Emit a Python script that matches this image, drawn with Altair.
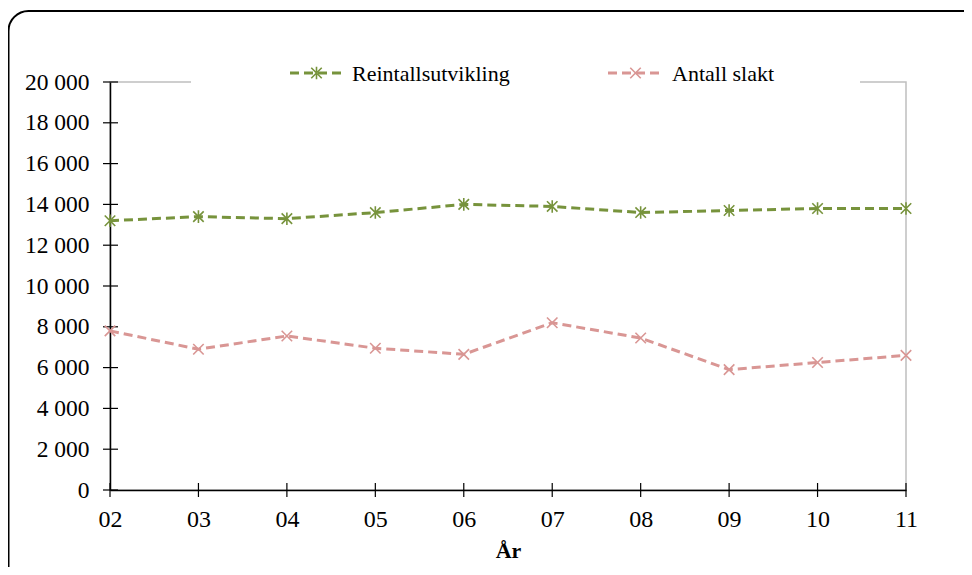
import altair as alt
import pandas as pd

years = ["02", "03", "04", "05", "06", "07", "08", "09", "10", "11"]
reintall = [13200, 13400, 13300, 13600, 14000, 13900, 13600, 13700, 13800, 13800]
slakt = [7800, 6900, 7550, 6950, 6650, 8200, 7450, 5900, 6250, 6600]
series = ["Reintallsutvikling", "Antall slakt"]
colors = ["#77933C", "#D99694"]
y_ticks = [0, 2000, 4000, 6000, 8000, 10000, 12000, 14000, 16000, 18000, 20000]

STAR = "M-1,-1L1,1M-1,1L1,-1M0,-1.2L0,1.2"
CROSS = "M-1,-1L1,1M-1,1L1,-1"
FONT = "Liberation Serif"

rows = []
for name, vals in zip(series, [reintall, slakt]):
    for yr, v in zip(years, vals):
        rows.append({"year": yr, "value": v, "series": name})
df = pd.DataFrame(rows)
ticks_df = pd.DataFrame({"v": y_ticks})
years_df = pd.DataFrame({"year": years})
one = pd.DataFrame({"a": [0]})

W, H = 796, 408

xscale = alt.Scale(type="point", padding=0, domain=years)
yscale = alt.Scale(domain=[0, 20000], nice=False)
cscale = alt.Scale(domain=series, range=colors)
sscale = alt.Scale(domain=series, range=[STAR, CROSS])

base = alt.Chart(df)

lines = base.mark_line(strokeWidth=3, strokeDash=[9, 5]).encode(
    x=alt.X("year:O", scale=xscale, sort=years,
            axis=alt.Axis(title="År", titleFont=FONT, titleFontSize=22, titleFontWeight="bold",
                          titleColor="black", titlePadding=9, labelFont=FONT, labelFontSize=24,
                          labelColor="black", labelAngle=0, labelBaseline="top", labelAlign="center",
                          ticks=True, tickSize=7, tickColor="transparent", labelPadding=10,
                          domainColor="black", domainWidth=1.5, grid=False)),
    y=alt.Y("value:Q", scale=yscale,
            axis=alt.Axis(title=None, values=y_ticks, labelFont=FONT, labelFontSize=23.5,
                          labelColor="black", ticks=True, tickSize=7, tickColor="transparent",
                          labelPadding=14,
                          domainColor="black", domainWidth=1.5, grid=False,
                          labelExpr="replace(format(datum.value, ','), ',', ' ')")),
    color=alt.Color("series:N", scale=cscale, legend=None),
    detail="series:N",
)

points = base.mark_point(filled=False, strokeWidth=1.6, size=110, opacity=1).encode(
    x=alt.X("year:O", scale=xscale, sort=years),
    y=alt.Y("value:Q", scale=yscale),
    color=alt.Color("series:N", scale=cscale, legend=None),
    shape=alt.Shape("series:N", scale=sscale, legend=None),
)

ytick_rules = alt.Chart(ticks_df).mark_rule(color="black", strokeWidth=1.2).encode(
    y=alt.Y("v:Q", scale=yscale),
    x=alt.value(-7), x2=alt.value(8),
)
xtick_rules = alt.Chart(years_df).mark_rule(color="black", strokeWidth=1.2).encode(
    x=alt.X("year:O", scale=xscale, sort=years),
    y=alt.value(H - 7), y2=alt.value(H + 7),
)

# legend box (white) covering the top border
legend_box = alt.Chart(one).mark_rect(fill="white", stroke=None).encode(
    x=alt.value(81), x2=alt.value(750), y=alt.value(-24), y2=alt.value(4)
)

LY = -9
legend_layers = []
for name, color, shp, x0, x1, tx in [
    (series[0], colors[0], STAR, 180, 233, 242),
    (series[1], colors[1], CROSS, 498, 553, 562),
]:
    legend_layers.append(
        alt.Chart(one).mark_rule(color=color, strokeWidth=3, strokeDash=[9, 5]).encode(
            x=alt.value(x0), x2=alt.value(x1), y=alt.value(LY)
        )
    )
    legend_layers.append(
        alt.Chart(one).mark_point(color=color, shape=shp, filled=False, strokeWidth=1.6, size=110, opacity=1).encode(
            x=alt.value((x0 + x1) / 2), y=alt.value(LY)
        )
    )
    legend_layers.append(
        alt.Chart(one).mark_text(text=name, font=FONT, fontSize=22, color="black",
                                 align="left", baseline="middle").encode(
            x=alt.value(tx), y=alt.value(LY + 1)
        )
    )

frame = alt.Chart(one).mark_rect(fillOpacity=0, stroke="black", strokeWidth=2, cornerRadius=20).encode(
    x=alt.value(-101.5), x2=alt.value(880), y=alt.value(-71), y2=alt.value(510)
)

chart = alt.layer(
    legend_box, ytick_rules, xtick_rules, lines, points, *legend_layers, frame
).properties(
    width=W, height=H,
    autosize=alt.AutoSizeParams(type="none"),
    padding={"left": 102, "top": 74, "right": 58, "bottom": 77},
    background="white",
).configure_view(stroke="#BFBFBF", strokeWidth=1.5)

chart.save("out.html", embed_options={"renderer": "svg", "actions": False})
